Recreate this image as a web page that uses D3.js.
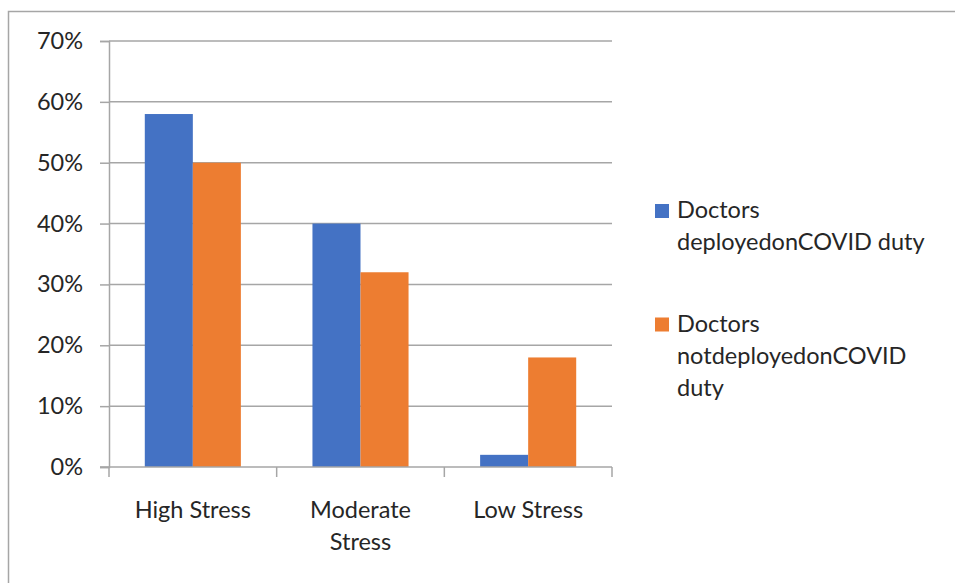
<!DOCTYPE html>
<html>
<head>
<meta charset="utf-8">
<script src="https://cdn.jsdelivr.net/npm/d3@7"></script>
<style>
  html, body { margin: 0; padding: 0; background: #fff; }
  svg { display: block; }
  text { font-family: Lato, "Liberation Sans", sans-serif; fill: #262626; }
</style>
</head>
<body>
<svg id="chart" width="955" height="583"></svg>
<script>
// Stress levels among doctors, by COVID duty deployment
const categories = ["High Stress", "Moderate Stress", "Low Stress"];
const categoryLines = [["High Stress"], ["Moderate", "Stress"], ["Low Stress"]];
const seriesNames = ["Doctors deployedonCOVID duty", "Doctors notdeployedonCOVID duty"];
const legendLines = [["Doctors", "deployedonCOVID duty"], ["Doctors", "notdeployedonCOVID", "duty"]];
const deployed = [0.58, 0.40, 0.02];
const notDeployed = [0.50, 0.32, 0.18];
const yTicks = [0, 0.1, 0.2, 0.3, 0.4, 0.5, 0.6, 0.7];
const colors = ["#4472C4", "#ED7D31"];

const FONT = 23.5;
const svg = d3.select("#chart");
const seriesValues = [deployed, notDeployed];

// outer frame
svg.append("rect")
  .attr("x", 8.5).attr("y", 11.5)
  .attr("width", 960).attr("height", 600)
  .attr("fill", "none").attr("stroke", "#a6a6a6").attr("stroke-width", 1.5);

const plot = { left: 109, right: 612, top: 41, bottom: 467 };

const y = d3.scaleLinear().domain([0, 0.7]).range([plot.bottom, plot.top]);
const x0 = d3.scaleBand().domain(categories).range([plot.left, plot.right]).padding(0);
const x1 = d3.scaleBand().domain(seriesNames).range([0, x0.bandwidth()])
  .paddingInner(0).paddingOuter(0.745);

// gridlines
svg.append("g").selectAll("line")
  .data(yTicks.filter(t => t > 0))
  .join("line")
  .attr("x1", plot.left).attr("x2", plot.right)
  .attr("y1", d => y(d)).attr("y2", d => y(d))
  .attr("stroke", "#a6a6a6").attr("stroke-width", 1.5);

// y axis
const yAxis = d3.axisLeft(y).tickValues(yTicks).tickFormat(d3.format(".0%")).tickSize(9).tickPadding(17);
const gy = svg.append("g").attr("transform", `translate(${plot.left},0)`).call(yAxis);
gy.select(".domain").attr("stroke", "#a6a6a6").attr("stroke-width", 1.5);
gy.selectAll(".tick line").attr("stroke", "#a6a6a6").attr("stroke-width", 1.5);
gy.selectAll(".tick text").attr("font-size", FONT).attr("fill", "#262626")
  .attr("font-family", "Lato, 'Liberation Sans', sans-serif");

// bars
const groups = svg.append("g").selectAll("g")
  .data(categories)
  .join("g")
  .attr("transform", d => `translate(${x0(d)},0)`);

groups.selectAll("rect")
  .data((c, i) => seriesNames.map((s, j) => ({ s, j, v: seriesValues[j][i] })))
  .join("rect")
  .attr("x", d => x1(d.s))
  .attr("width", x1.bandwidth())
  .attr("y", d => y(d.v))
  .attr("height", d => y(0) - y(d.v))
  .attr("fill", d => colors[d.j]);

// x axis with ticks at category boundaries
const gx = svg.append("g");
gx.append("line")
  .attr("x1", plot.left - 9).attr("x2", plot.right)
  .attr("y1", y(0)).attr("y2", y(0))
  .attr("stroke", "#a6a6a6").attr("stroke-width", 1.5);
const bounds = categories.map(c => x0(c)).concat([x0(categories[categories.length - 1]) + x0.bandwidth()]);
gx.selectAll("line.tick")
  .data(bounds)
  .join("line")
  .attr("class", "tick")
  .attr("x1", d => d).attr("x2", d => d)
  .attr("y1", y(0)).attr("y2", y(0) + 10)
  .attr("stroke", "#a6a6a6").attr("stroke-width", 1.5);

// category labels
categories.forEach((c, i) => {
  const cx = x0(c) + x0.bandwidth() / 2;
  const t = svg.append("text")
    .attr("x", cx)
    .attr("y", 518)
    .attr("text-anchor", "middle")
    .attr("font-size", FONT);
  categoryLines[i].forEach((line, k) => {
    t.append("tspan").attr("x", cx).attr("dy", k === 0 ? 0 : 32).text(line);
  });
});

// legend
const legendY = [218, 331.5];
seriesNames.forEach((s, j) => {
  svg.append("rect")
    .attr("x", 655).attr("y", legendY[j] - 14)
    .attr("width", 14).attr("height", 14)
    .attr("fill", colors[j]);
  const t = svg.append("text")
    .attr("x", 677).attr("y", legendY[j])
    .attr("font-size", FONT);
  legendLines[j].forEach((line, k) => {
    t.append("tspan").attr("x", 677).attr("dy", k === 0 ? 0 : 32).text(line);
  });
});
</script>
</body>
</html>
